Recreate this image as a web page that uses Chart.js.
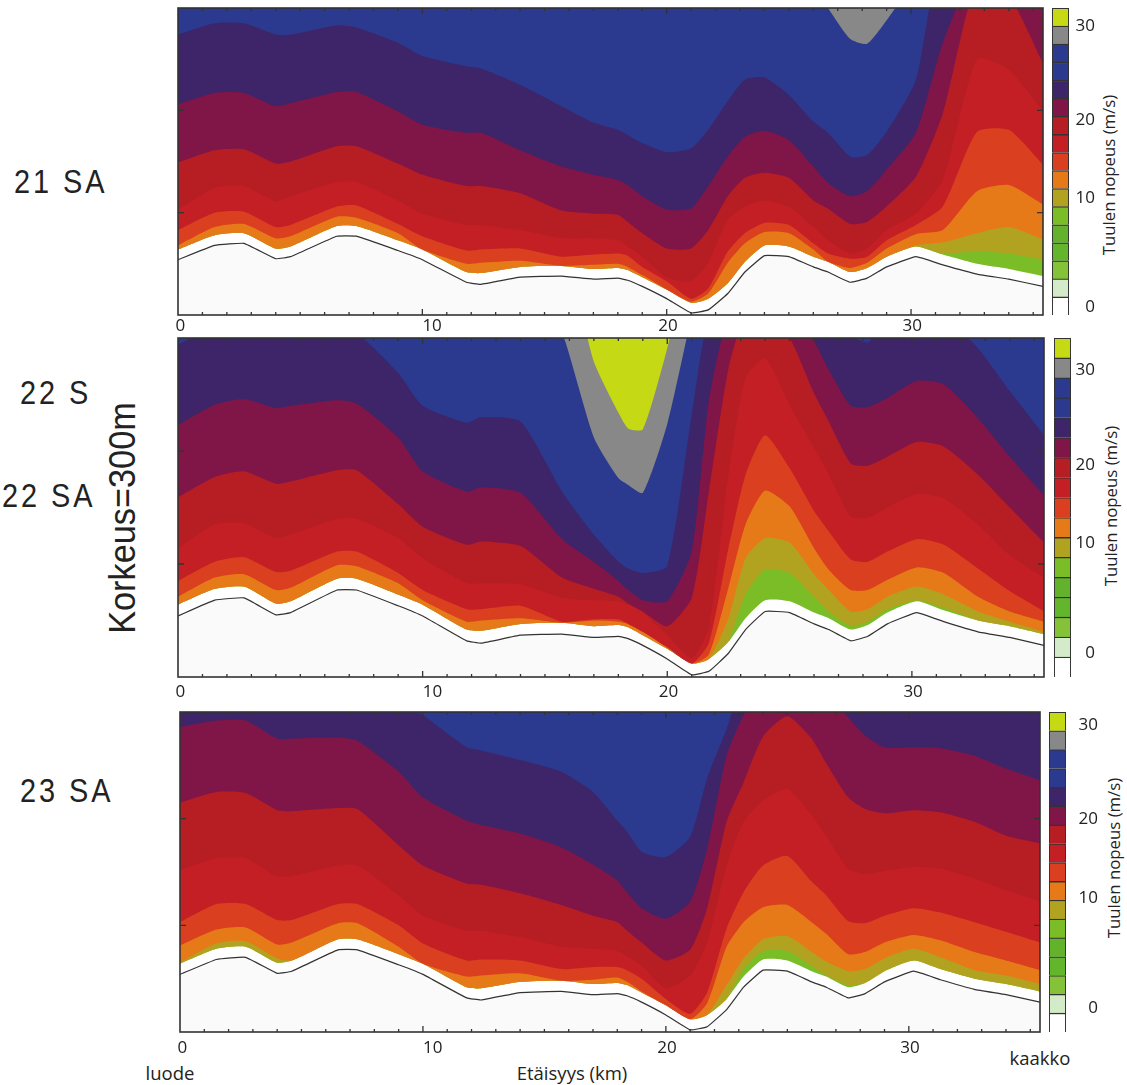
<!DOCTYPE html>
<html>
<head>
<meta charset="utf-8">
<script src="https://cdn.jsdelivr.net/npm/chart.js@4"></script>
<style>
body { margin: 0; background: #fff; overflow: hidden; }
#sivu { position: relative; width: 1127px; height: 1085px; overflow: hidden; }
canvas { position: absolute; }
.iso { position: absolute; font-family: "Liberation Sans", sans-serif; font-size: 34px; letter-spacing: 3.5px; color: #222; white-space: nowrap; line-height: 34px; transform: scaleX(0.85); transform-origin: left center; }
.pysty { position: absolute; font-family: "Open Sans", sans-serif; font-size: 16.8px; color: #222; white-space: nowrap; transform: translate(-50%, -50%) rotate(-90deg); }
.pieni { position: absolute; font-family: "Open Sans", sans-serif; font-size: 18.5px; color: #222; white-space: nowrap; transform: translate(-50%, -50%); }
</style>
</head>
<body>
<div id="sivu">
  <div class="iso" style="left:14px;top:164px">21 SA</div>
  <div class="iso" style="left:20px;top:375px;width:80px;overflow:hidden">22 SA</div>
  <div class="iso" style="left:2px;top:478px">22 SA</div>
  <div class="iso" style="left:20px;top:773px">23 SA</div>
  <div style="position:absolute;left:123px;top:518px;transform:translate(-50%,-50%) rotate(-90deg) scaleX(0.94);font:36.5px 'Liberation Sans',sans-serif;color:#222;white-space:nowrap">Korkeus=300m</div>
  <div class="pysty" style="left:1108px;top:175px">Tuulen nopeus (m/s)</div>
  <div class="pysty" style="left:1110px;top:506px">Tuulen nopeus (m/s)</div>
  <div class="pysty" style="left:1113px;top:858px">Tuulen nopeus (m/s)</div>
  <div class="pieni" style="left:170px;top:1072px">luode</div>
  <div class="pieni" style="left:572px;top:1072px">Etäisyys (km)</div>
  <div class="pieni" style="left:1040px;top:1057px">kaakko</div>
</div>
<script>
// etaisyys km, korkeudet metreina (yli 300 = kuvan ylapuolella)
const etaisyys = [0,1.5,2.7,4,4.6,6.5,7.3,9,10,11.8,12.4,14,15.7,17,18,18.4,19,20,21,21.7,22.5,23.2,24,25,26,26.6,27.5,28.2,29,30.2,31.3,32.7,34,35.4]
const maasto = [54,68,70,55,57,77,77,63,54,32,30,37,38,35,36,34,28,16,2,5,21,42,58,57,47,42,32,36,47,57,49,40,35,28]
const alaraja = [64,78,80,65,67,87,87,73,64,42,41,47,48,45,46,44,37,25,12,16,31,52,68,67,57,52,42,46,57,67,59,50,45,38]

// 21 SA, kunkin varin alareuna
const oliivi21 = [64,78,80,65,67,87,87,73,64,42,41,47,48,45,46,44,37,25,12,16,31,52,68,67,57,52,42,46,57,67,60,62,60,54]
const oranssi21 = [64,78,80,65,67,87,87,73,64,42,41,47,48,45,46,44,37,25,12,16,31,52,68,67,57,52,42,46,57,68,71,80,86,74]
const punaoranssi21 = [68,86,89,75,77,96,95,80,64,50,51,53,48,49,50,47,39,25,13,21,51,70,81,80,64,52,46,51,65,79,83,121,127,108]
const punainen21 = [83,100,101,86,88,106,107,89,77,63,64,65,57,59,60,58,47,33,16,26,62,80,90,88,70,60,55,57,73,88,106,179,181,147]
const tumma21 = [103,124,126,111,116,130,130,112,99,88,88,83,75,75,73,67,57,37,33,51,93,106,112,106,86,73,60,65,83,99,132,250,240,199]
const viini21 = [149,161,162,148,150,165,165,148,137,126,126,119,102,99,98,91,80,65,65,83,116,134,139,134,112,104,89,91,106,135,197,325,312,246]
const violetti21 = [206,217,217,204,207,218,218,199,186,178,178,161,145,137,132,127,116,103,104,126,155,174,180,171,145,129,116,121,142,178,266,340,340,340]
const sininen21 = [274,285,285,274,274,283,281,266,253,243,241,225,204,188,181,176,168,159,163,181,209,230,232,215,189,178,155,156,179,230,360,360,360,360]
const harmaa21 = [380,380,380,380,380,380,380,380,380,380,380,380,380,380,380,380,380,380,380,380,380,380,380,380,320,300,270,265,288,330,380,380,380,380]

// 22 SA
const oliivi22 = [64,78,80,65,67,87,87,73,64,42,41,47,48,45,46,44,37,25,12,16,32,73,95,92,71,58,45,49,60,68,61,50,45,38]
const oranssi22 = [64,78,80,65,67,87,87,73,64,42,41,47,48,45,46,44,37,25,12,16,52,105,123,119,91,77,58,60,71,80,73,58,49,40]
const punaoranssi22 = [71,88,91,77,79,99,98,83,68,49,50,52,48,50,49,47,40,27,12,20,79,135,165,151,114,95,77,77,86,97,92,71,58,49]
const punainen22 = [85,102,106,93,94,111,111,92,77,60,60,63,49,51,51,47,40,26,12,30,114,179,214,185,147,129,104,102,111,122,117,96,76,58]
const tumma22 = [114,135,136,123,126,140,140,123,105,83,83,82,70,68,67,64,57,37,17,43,179,265,282,241,203,179,142,141,150,162,158,135,108,88]
const viini22 = [159,177,182,171,173,183,183,153,133,117,120,116,88,78,71,65,58,45,70,164,273,320,320,300,251,226,189,187,195,208,204,179,150,119]
const violetti22 = [223,241,246,238,240,245,242,212,182,164,168,163,122,102,85,77,68,67,111,244,320,320,320,320,297,272,240,239,247,262,259,229,195,161]
const sininen22 = [294,310,310,310,310,310,305,269,240,225,230,226,164,126,102,96,92,98,232,320,330,330,330,330,330,330,303,296,320,330,320,291,253,214]
const harmaa22 = [380,380,380,380,380,380,380,380,380,380,380,380,305,212,176,170,163,224,320,380,380,380,380,380,380,380,380,380,380,380,380,380,380,380]
const keltainen22 = [380,380,380,380,380,380,380,380,380,380,380,380,380,279,234,220,219,291,380,380,380,380,380,380,380,380,380,380,380,380,380,380,380,380]

// 23 SA
const oliivi23 = [64,78,80,65,67,87,87,73,64,42,41,47,48,45,46,44,37,25,12,16,31,59,76,76,62,53,44,46,57,67,59,50,45,38]
const oranssi23 = [65,83,85,69,67,87,87,73,64,42,41,47,48,45,46,44,37,25,12,16,44,69,87,90,75,66,57,59,69,78,70,58,53,45]
const punaoranssi23 = [81,96,98,82,84,102,102,80,64,52,53,55,48,49,51,47,38,25,12,27,80,103,117,119,103,92,73,75,84,91,86,75,67,58]
const punainen23 = [103,120,120,105,105,120,120,100,83,67,68,67,59,61,61,58,50,31,17,37,97,131,156,165,141,128,104,102,109,116,112,103,94,84]
const tumma23 = [152,163,163,146,146,156,156,128,109,95,95,89,80,78,76,71,62,41,53,84,156,197,217,228,203,184,153,148,151,155,153,144,133,123]
const viini23 = [215,225,224,208,207,210,209,175,156,139,138,130,119,109,103,95,84,67,77,116,197,234,277,296,275,252,220,209,205,208,206,197,184,177]
const violetti23 = [286,292,292,275,275,276,273,244,220,198,194,186,173,157,142,131,116,106,122,172,259,297,320,320,320,320,295,278,267,267,266,259,247,236]
const sininen23 = [330,330,330,330,330,330,330,310,297,267,264,255,244,225,198,188,169,164,183,238,284,330,330,330,330,330,330,330,330,330,330,330,330,330]

// x-akselin numerot ovat kuvassa vahan sivussa viivoista
const xNumerot = ['0','10','20','30']
const xPaikat = [0.1,10.4,20.05,30.05]
const yViivat = [100,200]
const kmViivat = [1,2,3,4,5,6,7,8,9,10,11,12,13,14,15,16,17,18,19,20,21,22,23,24,25,26,27,28,29,30,31,32,33,34,35]

// vaipalkki alhaalta ylos, paikat lokeroina
const palkkiVarit = ['#ffffff','#d3ebc8','#84c337','#63b52c','#62b32b','#7bbd27','#b1a320','#e77a18','#da3f1f','#c41f25','#b61e24','#801548','#3e2468','#2b3a8e','#2b3a8e','#888888','#c6d915']
const palkkiNumerot = ['0','10','20','30']
const palkkiPaikat21 = [0.44,6.46,10.8,16.0]
const palkkiPaikat22 = [1.2,6.7,10.6,15.4]
const palkkiPaikat23 = [1.27,7.1,11.3,16.3]

const VIHREA = '#7abd27', OLIIVI = '#b1a320', ORANSSI = '#e77a18', PUNAORANSSI = '#da3f1f', PUNAINEN = '#c41f25',
	TUMMA = '#b61e24', VIINI = '#801548', VIOLETTI = '#3e2468', SININEN = '#2b3a8e', HARMAA = '#888888', KELTAINEN = '#c6d915'

const kehys = {
	id: 'kehys',
	afterDatasetsDraw(chart) {
		const { ctx, chartArea: a, scales: { x, y } } = chart
		ctx.save()
		ctx.strokeStyle = '#333'
		ctx.lineWidth = 1.3
		ctx.beginPath()
		kmViivat.forEach(km => {
			const px = x.getPixelForValue(km), pit = km % 10 == 0 ? 6 : 3
			ctx.moveTo(px, a.top); ctx.lineTo(px, a.top + pit)
			ctx.moveTo(px, a.bottom); ctx.lineTo(px, a.bottom - pit)
		})
		yViivat.forEach(m => {
			const py = y.getPixelForValue(m)
			ctx.moveTo(a.left, py); ctx.lineTo(a.left + 6, py)
			ctx.moveTo(a.right, py); ctx.lineTo(a.right - 6, py)
		})
		ctx.stroke()
		ctx.lineWidth = 1.6
		ctx.strokeRect(a.left, a.top, a.right - a.left, a.bottom - a.top)
		ctx.restore()
	}
}

function uusiCanvas(vasen, yla, leveys, korkeus) {
	const c = document.createElement('canvas')
	c.width = leveys
	c.height = korkeus
	c.style.left = vasen + 'px'
	c.style.top = yla + 'px'
	document.getElementById('sivu').appendChild(c)
	return c.getContext('2d')
}

function piirraPaneeli(p) {
	const reuna = 30, ylaReuna = 4, alaTila = 30
	const ctx = uusiCanvas(p.vasen - reuna, p.yla - ylaReuna, p.oikea - p.vasen + 2 * reuna, p.ala - p.yla + ylaReuna + alaTila)
	const pisteet = arvot => arvot.map((y, i) => ({ x: etaisyys[i], y: y }))
	let sarjat = p.kaistat.map(k => ({
		data: pisteet(k[1]),
		backgroundColor: k[0],
		borderWidth: 0,
		pointRadius: 0,
		fill: 'end',
		tension: 0.2
	}))
	sarjat.push({ data: pisteet(maasto), borderColor: '#333', borderWidth: 1.2, backgroundColor: '#fafafa', pointRadius: 0, fill: 'start', tension: 0.1 })
	sarjat.reverse()	// ensimmainen piirtyy viimeisena

	new Chart(ctx, {
		type: 'line',
		data: { datasets: sarjat },
		plugins: [kehys],
		options: {
			responsive: false,
			animation: false,
			events: [],
			layout: { autoPadding: false, padding: { left: reuna, right: reuna, top: ylaReuna, bottom: 0 } },
			plugins: { legend: { display: false }, tooltip: { enabled: false } },
			scales: {
				x: {
					type: 'linear', min: 0, max: 35.4,
					grid: { display: false, drawTicks: false }, border: { display: false },
					afterBuildTicks: s => { s.ticks = xPaikat.map(v => ({ value: v })) },
					afterFit: s => { s.height = alaTila },
					ticks: {
						autoSkip: false, maxRotation: 0, padding: p.numeroVali, color: '#222',
						font: { family: 'Open Sans', size: 17 },
						callback: (v, i) => xNumerot[i]
					}
				},
				y: {
					type: 'linear', min: 0, max: 300,
					grid: { display: false, drawTicks: false }, border: { display: false },
					ticks: { display: false },
					afterFit: s => { s.width = 0 }
				}
			}
		}
	})
}

function piirraPalkki(p) {
	const vara = 2, w = p.palkkiO - p.palkkiV
	const ctx = uusiCanvas(p.palkkiV - vara, p.yla - vara, w + vara + p.numeroTila + 2, p.ala - p.yla + 2 * vara)
	new Chart(ctx, {
		type: 'bar',
		data: {
			labels: ['v'],
			datasets: palkkiVarit.map(v => ({ data: [1], backgroundColor: v, borderColor: '#333', borderWidth: 1.3 }))
		},
		options: {
			responsive: false,
			animation: false,
			events: [],
			layout: { autoPadding: false, padding: { left: vara, right: 2, top: vara, bottom: vara } },
			plugins: { legend: { display: false }, tooltip: { enabled: false } },
			datasets: { bar: { barPercentage: 1, categoryPercentage: 1 } },
			scales: {
				x: { stacked: true, display: false },
				y: {
					stacked: true, position: 'right', min: 0, max: 17,
					grid: { display: false, drawTicks: false }, border: { display: false },
					afterBuildTicks: s => { s.ticks = p.palkkiPaikat.map(v => ({ value: v })) },
					afterFit: s => { s.width = p.numeroTila; s.paddingTop = 0; s.paddingBottom = 0 },
					ticks: {
						autoSkip: false, crossAlign: 'far', padding: 0, color: '#222',
						font: { family: 'Open Sans', size: 17 },
						callback: (v, i) => palkkiNumerot[i]
					}
				}
			}
		}
	})
}

const paneelit = [
	{ vasen: 178, oikea: 1043, yla: 8, ala: 315, numeroVali: 1, palkkiV: 1052, palkkiO: 1069, numeroTila: 26, palkkiPaikat: palkkiPaikat21,
		kaistat: [[VIHREA, alaraja], [OLIIVI, oliivi21], [ORANSSI, oranssi21], [PUNAORANSSI, punaoranssi21], [PUNAINEN, punainen21],
			[TUMMA, tumma21], [VIINI, viini21], [VIOLETTI, violetti21], [SININEN, sininen21], [HARMAA, harmaa21]] },
	{ vasen: 178, oikea: 1044, yla: 338, ala: 677, numeroVali: 5, palkkiV: 1054, palkkiO: 1071, numeroTila: 24, palkkiPaikat: palkkiPaikat22,
		kaistat: [[VIHREA, alaraja], [OLIIVI, oliivi22], [ORANSSI, oranssi22], [PUNAORANSSI, punaoranssi22], [PUNAINEN, punainen22],
			[TUMMA, tumma22], [VIINI, viini22], [VIOLETTI, violetti22], [SININEN, sininen22], [HARMAA, harmaa22], [KELTAINEN, keltainen22]] },
	{ vasen: 180, oikea: 1040, yla: 712, ala: 1032, numeroVali: 6, palkkiV: 1049, palkkiO: 1066, numeroTila: 32, palkkiPaikat: palkkiPaikat23,
		kaistat: [[VIHREA, alaraja], [OLIIVI, oliivi23], [ORANSSI, oranssi23], [PUNAORANSSI, punaoranssi23], [PUNAINEN, punainen23],
			[TUMMA, tumma23], [VIINI, viini23], [VIOLETTI, violetti23], [SININEN, sininen23]] }
]

paneelit.forEach(p => {
	piirraPaneeli(p)
	piirraPalkki(p)
})
</script>
</body>
</html>
